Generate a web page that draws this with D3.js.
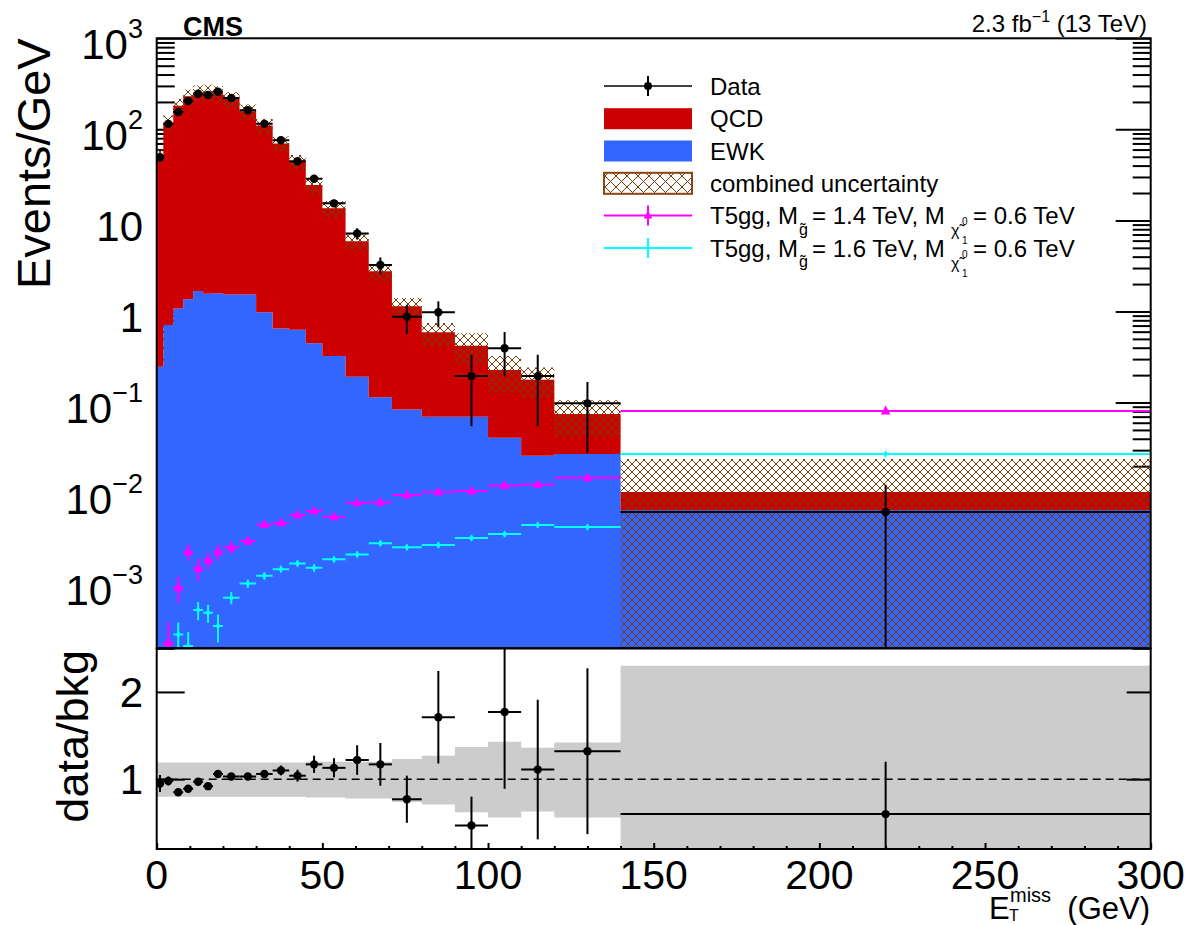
<!DOCTYPE html>
<html><head><meta charset="utf-8">
<script src="https://cdn.jsdelivr.net/npm/d3@7"></script>
<style>
body{margin:0;background:#fff}
svg{display:block}
text{font-family:"Liberation Sans",Arial,Helvetica,sans-serif;fill:#000}
</style>
</head><body>
<svg id="c" width="1187" height="925"></svg>
<script>
// ---------------- data ----------------
const binEdges = [0,2,5,8,11,14,17,20,25,30,35,40,45,50,57,64,71,80,90,100,110,120,140,300];
const qcdVals = [50.8,118.3,180.9,229.6,252.3,257.4,248.4,213.5,156.5,109.0,69.4,43.4,24.05,13.28,5.71,2.66,1.056,0.52,0.35,0.186,0.152,0.0476,0.00381];
const ewkVals = [0.247,0.71,1.08,1.36,1.68,1.57,1.59,1.54,1.54,0.98,0.65,0.63,0.447,0.324,0.192,0.114,0.084,0.0698,0.0698,0.041,0.026,0.0272,0.00659];
const uncUp   = [0.19,0.19,0.19,0.19,0.19,0.19,0.19,0.19,0.19,0.19,0.19,0.19,0.20,0.20,0.20,0.20,0.23,0.27,0.37,0.43,0.36,0.42,1.30];
const uncDown = [0.20,0.20,0.20,0.20,0.20,0.20,0.20,0.20,0.20,0.20,0.20,0.20,0.21,0.21,0.22,0.22,0.26,0.29,0.38,0.44,0.37,0.44,1.00];
const dataVals = [49.3,115,155,205,246,238,259,221,162,115,75.8,44.6,28.7,15.4,7.2,3.24,0.875,0.98,0.195,0.394,0.195,0.098,0.00627];
const dataErr  = [4.97,6.2,7.2,8.3,9.1,8.9,9.3,6.6,5.7,4.8,3.9,3.0,2.4,1.48,1.01,0.68,0.31,0.31,0.14,0.2,0.14,0.07,0.00625];
const ratioVals = [0.95,0.98,0.85,0.89,0.97,0.92,1.06,1.03,1.03,1.06,1.10,1.04,1.17,1.13,1.22,1.17,0.77,1.71,0.47,1.77,1.11,1.32,0.60];
const ratioErr  = [0.097,0.052,0.040,0.036,0.036,0.034,0.037,0.031,0.036,0.044,0.056,0.068,0.098,0.109,0.17,0.245,0.27,0.53,0.33,0.88,0.8,0.95,0.6];
const sig14 = [1.2e-4,2.30e-4,9.3e-4,2.30e-3,1.51e-3,1.86e-3,2.30e-3,2.57e-3,3.01e-3,4.59e-3,4.78e-3,5.81e-3,6.43e-3,5.57e-3,7.94e-3,8.02e-3,9.64e-3,1.04e-2,1.07e-2,1.23e-2,1.26e-2,1.49e-2,8.07e-2];
const sig14Err = [6e-5,1.6e-4,3.0e-4,4.7e-4,4.3e-4,3.8e-4,4.5e-4,3.9e-4,3.6e-4,4.2e-4,4.2e-4,4.6e-4,4.8e-4,4.4e-4,5.2e-4,5.3e-4,5.5e-4,5.8e-4,6.0e-4,6.4e-4,6.6e-4,7.0e-4,1.8e-3];
const sig16 = [8e-5,1.1e-4,2.84e-4,2.12e-4,5.26e-4,4.91e-4,3.51e-4,7.18e-4,1.03e-3,1.25e-3,1.48e-3,1.71e-3,1.53e-3,1.90e-3,2.15e-3,2.84e-3,2.57e-3,2.72e-3,3.25e-3,3.60e-3,4.52e-3,4.30e-3,2.72e-2];
const sig16Err = [3e-5,4e-5,1.0e-4,9e-5,1.2e-4,1.1e-4,1.2e-4,1.1e-4,1.1e-4,1.2e-4,1.3e-4,1.4e-4,1.4e-4,1.5e-4,1.6e-4,1.9e-4,1.9e-4,2.0e-4,2.2e-4,2.4e-4,2.7e-4,2.6e-4,8e-4];
const yTickValues = [1000,100,10,1,0.1,0.01,0.001];
const yTickBase   = ["10","10","10","1","10","10","10"];
const yTickExp    = ["3","2","","","\u22121","\u22122","\u22123"];
const xTickValues = [0,50,100,150,200,250,300];
const xTickLabels = ["0","50","100","150","200","250","300"];
const rTickValues = [1,2];
const rTickLabels = ["1","2"];

// ---------------- layout ----------------
const X0=156.7, X1=1150.7, Y0=38.3, Y1=648.3, R1=849;
const RED="#cc0000", BLUE="#3366ff", BROWN="#7a3d0a", MAG="#ff00ff", CYA="#00ffff", GREY="#cccccc";
const svg=d3.select("#c");
const x=d3.scaleLinear().domain([0,300]).range([X0,X1]);
const y=d3.scaleLog().domain([2e-4,1000]).range([Y1,Y0]).clamp(false);
const yr=d3.scaleLinear().domain([0.2,2.5]).range([R1,Y1]);
const yc = v => y(Math.max(v,1e-7));

const bins = qcdVals.map((q,i)=>({i,lo:binEdges[i],hi:binEdges[i+1],c:(binEdges[i]+binEdges[i+1])/2,
  q, e:ewkVals[i], tot:q+ewkVals[i], up:uncUp[i], dn:uncDown[i],
  d:dataVals[i], de:dataErr[i], r:ratioVals[i], re:ratioErr[i],
  s1:sig14[i], s1e:sig14Err[i], s2:sig16[i], s2e:sig16Err[i]}));
const stepPts = f => bins.map(b=>({x:b.lo, ...f(b)})).concat([{x:300, ...f(bins[bins.length-1])}]);

const defs=svg.append("defs");
defs.append("clipPath").attr("id","clipU").append("rect").attr("x",X0).attr("y",Y0).attr("width",X1-X0).attr("height",Y1-Y0);
defs.append("clipPath").attr("id","clipR").append("rect").attr("x",X0).attr("y",Y1).attr("width",X1-X0).attr("height",R1-Y1);
const pat=defs.append("pattern").attr("id","hatch").attr("patternUnits","userSpaceOnUse").attr("width",8).attr("height",8);
pat.append("path").attr("d","M0,0L8,8M8,0L0,8M-1,7L1,9M7,-1L9,1M-1,1L1,-1M7,9L9,7").attr("stroke",BROWN).attr("stroke-width",1).attr("fill","none");
const patL=defs.append("pattern").attr("id","hatchL").attr("patternUnits","userSpaceOnUse").attr("width",11).attr("height",11);
patL.append("path").attr("d","M0,0L11,11M11,0L0,11").attr("stroke",BROWN).attr("stroke-width",1).attr("fill","none");

// ---------------- upper panel ticks (under fills) ----------------
const minors=[];
for(let k=-4;k<=2;k++) for(let m=2;m<=9;m++){const v=m*Math.pow(10,k); if(v>=2e-4&&v<=1000) minors.push(v);}
const gAx=svg.append("g");
gAx.append("g").attr("transform",`translate(${X0},0)`).call(d3.axisLeft(y).tickValues(yTickValues).tickSize(-35).tickFormat(""));
gAx.append("g").attr("transform",`translate(${X0},0)`).call(d3.axisLeft(y).tickValues(minors).tickSize(-18).tickFormat(""));
gAx.append("g").attr("transform",`translate(${X1},0)`).call(d3.axisRight(y).tickValues(yTickValues).tickSize(-35).tickFormat(""));
gAx.append("g").attr("transform",`translate(${X1},0)`).call(d3.axisRight(y).tickValues(minors).tickSize(-18).tickFormat(""));
gAx.selectAll(".domain").remove();
gAx.selectAll("line").attr("stroke","#000").attr("stroke-width",2);

// ---------------- upper panel ----------------
const gU=svg.append("g").attr("clip-path","url(#clipU)");
const area=d3.area().curve(d3.curveStepAfter).x(p=>x(p.x)).y0(p=>p.y0).y1(p=>p.y1);
gU.append("path").attr("d",area(stepPts(b=>({y0:Y1+5,y1:yc(b.e)})))).attr("fill",BLUE);
gU.append("path").attr("d",area(stepPts(b=>({y0:yc(b.e),y1:yc(b.tot)})))).attr("fill",RED);
gU.append("path").attr("d",area(stepPts(b=>({y0:Math.min(Y1+5,yc(b.tot*(1-b.dn))),y1:yc(b.tot*(1+b.up))})))).attr("fill","url(#hatch)");

function drawSignal(key,ekey,col,marker){
  const g=gU.append("g");
  g.selectAll("line.h").data(bins).join("line").attr("x1",b=>x(b.lo)).attr("x2",b=>x(b.hi))
    .attr("y1",b=>yc(b[key])).attr("y2",b=>yc(b[key])).attr("stroke",col).attr("stroke-width",2);
  g.selectAll("line.v").data(bins).join("line").attr("x1",b=>x(b.c)).attr("x2",b=>x(b.c))
    .attr("y1",b=>yc(b[key]-b[ekey])).attr("y2",b=>yc(b[key]+b[ekey])).attr("stroke",col).attr("stroke-width",2);
  if(marker==="tri"){
    g.selectAll("path.m").data(bins).join("path").attr("transform",b=>`translate(${x(b.c)},${yc(b[key])})`)
      .attr("d","M0,-5.5L4.8,3.5L-4.8,3.5Z").attr("fill",col);
  } else {
    g.selectAll("path.m").data(bins).join("path").attr("transform",b=>`translate(${x(b.c)},${yc(b[key])})`)
      .attr("d","M0,-3.8L2.4,0L0,3.8L-2.4,0Z").attr("fill",col);
  }
}
drawSignal("s1","s1e",MAG,"tri");
drawSignal("s2","s2e",CYA,"dia");

const gD=gU.append("g");
gD.selectAll("line.h").data(bins).join("line").attr("x1",b=>x(b.lo)).attr("x2",b=>x(b.hi))
  .attr("y1",b=>yc(b.d)).attr("y2",b=>yc(b.d)).attr("stroke","#000").attr("stroke-width",2);
gD.selectAll("line.v").data(bins).join("line").attr("x1",b=>x(b.c)).attr("x2",b=>x(b.c))
  .attr("y1",b=>Math.min(Y1+5,yc(b.d-b.de))).attr("y2",b=>yc(b.d+b.de)).attr("stroke","#000").attr("stroke-width",2);
gD.selectAll("circle").data(bins).join("circle").attr("cx",b=>x(b.c)).attr("cy",b=>yc(b.d)).attr("r",4.2).attr("fill","#000");

svg.append("rect").attr("x",X0).attr("y",Y0).attr("width",X1-X0).attr("height",Y1-Y0).attr("fill","none").attr("stroke","#000").attr("stroke-width",2);

// ---------------- ratio panel ----------------
const gR=svg.append("g").attr("clip-path","url(#clipR)");
const ra=d3.area().curve(d3.curveStepAfter).x(p=>x(p.x)).y0(p=>p.y0).y1(p=>p.y1);
gR.append("path").attr("d",ra(stepPts(b=>({y0:Math.min(R1+5,yr(1-b.dn)),y1:yr(1+b.up)})))).attr("fill",GREY);
gR.append("line").attr("x1",X0).attr("x2",X1).attr("y1",yr(1)).attr("y2",yr(1)).attr("stroke","#000").attr("stroke-width",1.6).attr("stroke-dasharray","8,5");
gR.selectAll("line.h").data(bins).join("line").attr("x1",b=>x(b.lo)).attr("x2",b=>x(b.hi))
  .attr("y1",b=>yr(b.r)).attr("y2",b=>yr(b.r)).attr("stroke","#000").attr("stroke-width",2);
gR.selectAll("line.v").data(bins).join("line").attr("x1",b=>x(b.c)).attr("x2",b=>x(b.c))
  .attr("y1",b=>Math.min(R1+5,yr(b.r-b.re))).attr("y2",b=>Math.max(Y1-5,yr(b.r+b.re))).attr("stroke","#000").attr("stroke-width",2);
gR.selectAll("circle").data(bins).join("circle").attr("cx",b=>x(b.c)).attr("cy",b=>yr(b.r)).attr("r",4.2).attr("fill","#000");

const gRA=svg.append("g");
const xMinor=d3.range(0,301,10).filter(v=>v%50!==0);
gRA.append("g").attr("transform",`translate(0,${R1})`).call(d3.axisBottom(x).tickValues(xTickValues).tickSize(-6).tickFormat(""));
gRA.append("g").attr("transform",`translate(0,${R1})`).call(d3.axisBottom(x).tickValues(xMinor).tickSize(-3).tickFormat(""));
gRA.append("g").attr("transform",`translate(${X0},0)`).call(d3.axisLeft(yr).tickValues(rTickValues).tickSize(-28).tickFormat(""));
gRA.append("g").attr("transform",`translate(${X1},0)`).call(d3.axisRight(yr).tickValues(rTickValues).tickSize(-24).tickFormat(""));
gRA.selectAll(".domain").remove();
gRA.selectAll("line").attr("stroke","#000").attr("stroke-width",2);
svg.append("rect").attr("x",X0).attr("y",Y1).attr("width",X1-X0).attr("height",R1-Y1).attr("fill","none").attr("stroke","#000").attr("stroke-width",2);

// ---------------- labels ----------------
yTickValues.forEach((v,i)=>{
  const t=svg.append("text").attr("x",143).attr("y",y(v)+20.5).attr("text-anchor","end").attr("font-size",42);
  t.append("tspan").text(yTickBase[i]);
  if(yTickExp[i]) t.append("tspan").attr("dy",-21).attr("font-size",27).text(yTickExp[i]);
});
rTickValues.forEach((v,i)=>{
  svg.append("text").attr("x",143).attr("y",yr(v)+15).attr("text-anchor","end").attr("font-size",42).text(rTickLabels[i]);
});
xTickValues.forEach((v,i)=>{
  svg.append("text").attr("x",x(v)).attr("y",889).attr("text-anchor","middle").attr("font-size",41).text(xTickLabels[i]);
});
svg.append("text").attr("transform","translate(50,38.3) rotate(-90)").attr("text-anchor","end").attr("font-size",47).text("Events/GeV");
svg.append("text").attr("transform","translate(88,650) rotate(-90)").attr("text-anchor","end").attr("font-size",45).text("data/bkg");

// x title
svg.append("text").attr("x",1150).attr("y",919).attr("text-anchor","end").attr("font-size",31).text("(GeV)");
svg.append("text").attr("x",989).attr("y",919).attr("font-size",31).text("E");
svg.append("text").attr("x",1010).attr("y",902).attr("font-size",20).text("miss");
svg.append("text").attr("x",1009).attr("y",920.5).attr("font-size",16).text("T");

svg.append("text").attr("x",183).attr("y",36).attr("font-size",27).attr("font-weight","bold").text("CMS");
const lumi=svg.append("text").attr("x",1147).attr("y",32).attr("text-anchor","end").attr("font-size",24);
lumi.append("tspan").text("2.3 fb");
lumi.append("tspan").attr("dy",-10).attr("font-size",16).text("\u22121");
lumi.append("tspan").attr("dy",10).text(" (13 TeV)");

// ---------------- legend ----------------
const LX0=604, LX1=692, LXM=648, LT=710;
const rows=[86,118.7,151,183.3,215.6,248];
const lg=svg.append("g");
lg.append("line").attr("x1",LX0).attr("x2",LX1).attr("y1",rows[0]).attr("y2",rows[0]).attr("stroke","#000").attr("stroke-width",1.5);
lg.append("line").attr("x1",LXM).attr("x2",LXM).attr("y1",rows[0]-10).attr("y2",rows[0]+10).attr("stroke","#000").attr("stroke-width",2);
lg.append("circle").attr("cx",LXM).attr("cy",rows[0]).attr("r",4).attr("fill","#000");
lg.append("rect").attr("x",LX0).attr("y",rows[1]-10.5).attr("width",LX1-LX0).attr("height",21).attr("fill",RED);
lg.append("rect").attr("x",LX0).attr("y",rows[2]-10.5).attr("width",LX1-LX0).attr("height",21).attr("fill",BLUE);
lg.append("rect").attr("x",LX0).attr("y",rows[3]-10.5).attr("width",LX1-LX0).attr("height",21).attr("fill","url(#hatchL)").attr("stroke","#8b4513").attr("stroke-width",2);
[[rows[4],MAG,"tri"],[rows[5],CYA,"dia"]].forEach(([yy,col,m])=>{
  lg.append("line").attr("x1",LX0).attr("x2",LX1).attr("y1",yy).attr("y2",yy).attr("stroke",col).attr("stroke-width",2);
  lg.append("line").attr("x1",LXM).attr("x2",LXM).attr("y1",yy-10).attr("y2",yy+10).attr("stroke",col).attr("stroke-width",2);
  lg.append("path").attr("transform",`translate(${LXM},${yy})`).attr("d",m==="tri"?"M0,-5L4.3,3L-4.3,3Z":"M0,-3.5L2.2,0L0,3.5L-2.2,0Z").attr("fill",col);
});
const legTexts=["Data","QCD","EWK","combined uncertainty"];
legTexts.forEach((t,i)=>lg.append("text").attr("x",LT).attr("y",rows[i]+8.5).attr("font-size",24).text(t));
const sigMass=["1.4","1.6"];
[rows[4],rows[5]].forEach((yy,i)=>{
  const b=yy+8.5;
  lg.append("text").attr("x",LT).attr("y",b).attr("font-size",24).text("T5gg, M");
  lg.append("text").attr("x",799).attr("y",b+10.5).attr("font-size",16).text("g\u0303");
  lg.append("text").attr("x",812).attr("y",b).attr("font-size",24).text(`= ${sigMass[i]} TeV, M`);
  lg.append("text").attr("x",951).attr("y",b+12).attr("font-size",16).text("\u03c7\u0303");
  lg.append("text").attr("x",962).attr("y",b+1).attr("font-size",10).text("0");
  lg.append("text").attr("x",962).attr("y",b+20).attr("font-size",10).text("1");
  lg.append("text").attr("x",973).attr("y",b).attr("font-size",24).text("= 0.6 TeV");
});
</script>
</body></html>
